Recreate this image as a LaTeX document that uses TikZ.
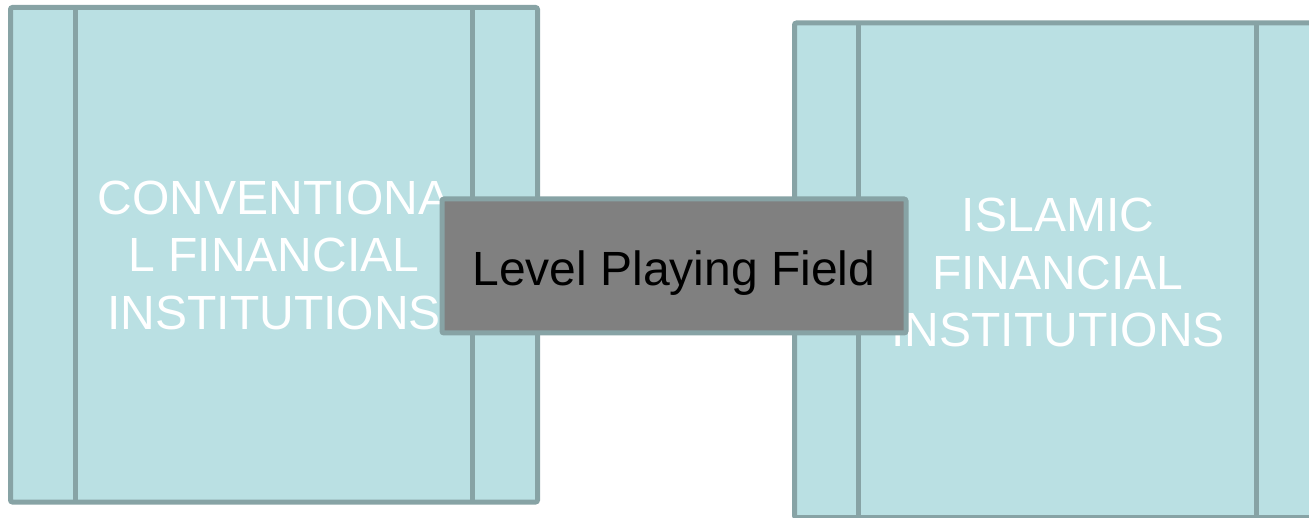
\documentclass[tikz,border=0pt]{standalone}
\usepackage{fontspec}
\setmainfont{Liberation Sans}
\definecolor{boxfill}{RGB}{186,224,227}
\definecolor{boxline}{RGB}{135,163,165}
\definecolor{midfill}{RGB}{128,128,128}
\begin{document}
\begin{tikzpicture}[x=1pt,y=-1pt,
  panel/.style={draw=boxline, line width=5pt, fill=boxfill, rounded corners=2pt,
    minimum width=527pt, minimum height=494.5pt, inner sep=0pt, outer sep=0pt},
  divider/.style={draw=boxline, line width=5pt},
  paneltext/.style={text=white, align=center, inner sep=0pt,
    font=\fontsize{48}{57.5}\selectfont},
  midbox/.style={draw=boxline, line width=5pt, fill=midfill, rounded corners=2pt,
    minimum width=464pt, minimum height=134pt, inner sep=0pt, outer sep=0pt},
  midtext/.style={text=black, inner sep=0pt, font=\fontsize{48}{57.5}\selectfont}]
\useasboundingbox (0,0) rectangle (1309,518);
% left panel
\node[panel] (L) at (274,254.75) {};
\draw[divider] ([xshift=65pt]L.north west) -- ([xshift=65pt]L.south west);
\draw[divider] ([xshift=-65.5pt]L.north east) -- ([xshift=-65.5pt]L.south east);
\node[paneltext] (LT) at (274,255) {CONVENTIONA\\L FINANCIAL\\INSTITUTIONS};
% right panel
\node[panel] (R) at (1058,270.25) {};
\draw[divider] ([xshift=64pt]R.north west) -- ([xshift=64pt]R.south west);
\draw[divider] ([xshift=-65pt]R.north east) -- ([xshift=-65pt]R.south east);
\node[paneltext] (RT) at (1058,272.5) {ISLAMIC\\FINANCIAL\\INSTITUTIONS};
% middle
\node[midbox] (M) at (674,266) {};
\node[midtext] (MT) at (674,272.8) {Level Playing Field};
\end{tikzpicture}
\end{document}
